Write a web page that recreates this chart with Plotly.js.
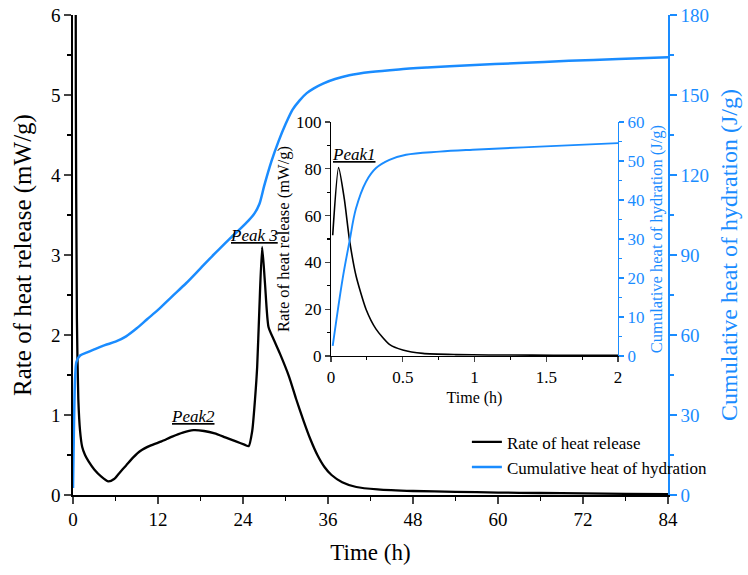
<!DOCTYPE html>
<html>
<head>
<meta charset="utf-8">
<script src="https://cdn.plot.ly/plotly-3.0.1.min.js"></script>
<style>html,body{margin:0;padding:0;background:#fff;}#chart{width:748px;height:575px;}</style>
</head>
<body>
<div id="chart"></div>
<script>
// ---- Main chart data ----
var mainTimeRate = [0.01, 0.05, 0.13, 0.25, 0.4, 0.55, 0.75, 1.0, 1.3, 1.7, 2.2, 3, 4, 5, 5.8, 6.5, 7.5, 8.5, 9.5, 11, 12.5, 14, 15.5, 17, 18.5, 20, 21.5, 23, 24.2, 24.8, 25.3, 25.7, 26.0, 26.3, 26.7, 27.1, 27.6, 28.3, 29.2, 30.5, 31.5, 32.5, 33.5, 34.5, 35.5, 36.5, 38, 40, 43, 48, 54, 60, 66, 72, 78, 84];
var mainRate = [51, 80, 50, 20, 5, 2.2, 1.2, 0.8, 0.6, 0.5, 0.42, 0.32, 0.23, 0.17, 0.2, 0.27, 0.37, 0.47, 0.55, 0.62, 0.67, 0.73, 0.78, 0.81, 0.8, 0.77, 0.72, 0.67, 0.63, 0.61, 0.8, 1.2, 1.6, 2.3, 3.1, 2.65, 2.1, 1.95, 1.77, 1.48, 1.2, 0.94, 0.7, 0.5, 0.35, 0.25, 0.16, 0.1, 0.07, 0.05, 0.04, 0.03, 0.025, 0.02, 0.015, 0.01];

var mainTimeCum = [0, 0.1, 0.2, 0.3, 0.5, 1, 2, 3, 4.5, 6, 7.5, 9, 10.5, 12, 14, 16, 18, 20, 22, 23.6, 24.8, 25.6, 26.3, 27, 28, 29, 30, 31, 32, 33, 34, 35.3, 37, 39, 42, 46, 50, 56, 63, 70, 77, 84];
var mainCum = [2.6, 20, 35, 44, 50, 52.3, 53.5, 54.6, 56.2, 57.5, 59.5, 62.5, 66, 69.4, 74.5, 79.5, 85, 90.5, 95.8, 99.8, 103, 105.5, 109, 116, 125, 132.5, 139, 144.5, 148, 150.7, 152.5, 154.3, 156, 157.4, 158.6, 159.6, 160.3, 161.2, 162, 162.8, 163.5, 164.2];

// ---- Inset data (first 2 h) ----
var insetTimeRate = [0.012, 0.053, 0.093, 0.128, 0.174, 0.244, 0.314, 0.407, 0.5, 0.64, 0.87, 1.1, 1.4, 1.7, 2.0];
var insetRate = [51.6, 80.5, 67, 50, 34.4, 20, 11.5, 5, 2.6, 1.1, 0.6, 0.45, 0.35, 0.3, 0.25];
var insetTimeCum = [0.012, 0.081, 0.128, 0.174, 0.244, 0.314, 0.407, 0.523, 0.756, 0.988, 1.453, 2.0];
var insetCum = [2.6, 19.8, 29.2, 37.8, 44.7, 48.2, 50.3, 51.6, 52.4, 52.9, 53.7, 54.6];

var seriesNames = ['Rate of heat release', 'Cumulative heat of hydration'];
var peakLabels = ['Peak1', 'Peak2', 'Peak 3'];
var rightTitle = 'Cumulative heat of hydration (J/g)';

var BLUE = '#1a8cff';
var FONT = 'Liberation Serif, Times New Roman, serif';

var traces = [
  {x: mainTimeRate, y: mainRate, type: 'scatter', mode: 'lines', name: seriesNames[0],
   line: {color: '#000', width: 2.3, shape: 'spline', smoothing: 0.6}, xaxis: 'x', yaxis: 'y'},
  {x: mainTimeCum, y: mainCum, type: 'scatter', mode: 'lines', name: seriesNames[1],
   line: {color: BLUE, width: 2.5, shape: 'spline', smoothing: 0.8}, xaxis: 'x', yaxis: 'y2'},
  {x: insetTimeRate, y: insetRate, type: 'scatter', mode: 'lines', showlegend: false,
   line: {color: '#000', width: 1.6, shape: 'spline', smoothing: 0.6}, xaxis: 'x2', yaxis: 'y3'},
  {x: insetTimeCum, y: insetCum, type: 'scatter', mode: 'lines', showlegend: false,
   line: {color: BLUE, width: 1.9, shape: 'spline', smoothing: 1}, xaxis: 'x2', yaxis: 'y4'}
];

var tickFont = {family: FONT, size: 19, color: '#000'};
var inTickFont = {family: FONT, size: 17, color: '#000'};

function peakText(s) { return '<span style="text-decoration:underline"><i>' + s + '</i></span>'; }

var layout = {
  width: 748, height: 575,
  margin: {l: 73, r: 80, t: 15, b: 80},
  paper_bgcolor: '#fff', plot_bgcolor: 'rgba(0,0,0,0)',
  font: {family: FONT, color: '#000'},
  showlegend: true,
  legend: {x: 0.662, y: 0.02, xanchor: 'left', yanchor: 'bottom', bgcolor: 'rgba(0,0,0,0)',
           font: {family: FONT, size: 17, color: '#000'}, tracegroupgap: 0},
  xaxis: {domain: [0, 1], range: [0, 84], dtick: 12, tick0: 0, ticks: 'outside', ticklen: 7, tickwidth: 1.3,
          minor: {dtick: 6, ticks: 'outside', ticklen: 4, tickcolor: '#000'},
          showline: true, linecolor: '#000', linewidth: 1.6, showgrid: false, zeroline: false,
          tickfont: tickFont, anchor: 'y',
          title: {text: 'Time (h)', font: {family: FONT, size: 23, color: '#000'}, standoff: 14}},
  xaxis3: {overlaying: 'x', side: 'top', anchor: 'y', range: [0, 84], dtick: 6, ticks: 'inside', ticklen: 6,
           showticklabels: false, showline: true, linecolor: '#000', linewidth: 1.6, showgrid: false, zeroline: false},
  yaxis: {domain: [0, 1], range: [0, 6], dtick: 1, ticks: 'outside', ticklen: 7, tickwidth: 1.3,
          minor: {dtick: 0.5, ticks: 'outside', ticklen: 4, tickcolor: '#000'},
          showline: true, linecolor: '#000', linewidth: 1.6, showgrid: false, zeroline: false,
          tickfont: tickFont, anchor: 'x',
          title: {text: 'Rate of heat release (mW/g)', font: {family: FONT, size: 25, color: '#000'}, standoff: 12}},
  yaxis2: {overlaying: 'y', side: 'right', anchor: 'x', range: [0, 180], dtick: 30, ticks: 'outside', ticklen: 7, tickwidth: 1.3,
           minor: {dtick: 15, ticks: 'outside', ticklen: 4, tickcolor: BLUE},
           showline: true, linecolor: BLUE, linewidth: 1.6, tickcolor: BLUE, showgrid: false, zeroline: false,
           tickfont: {family: FONT, size: 19, color: BLUE},
           title: {text: rightTitle, font: {family: FONT, size: 24, color: BLUE}, standoff: 12}},
  // inset
  xaxis2: {domain: [0.4336, 0.916], anchor: 'y3', range: [0, 2], dtick: 0.5, ticks: 'outside', ticklen: 5, tickwidth: 1.1,
           minor: {dtick: 0.25, ticks: 'outside', ticklen: 3, tickcolor: '#000'},
           showline: true, linecolor: '#000', linewidth: 1.2, showgrid: false, zeroline: false,
           tickfont: inTickFont,
           title: {text: 'Time (h)', font: {family: FONT, size: 16, color: '#000'}, standoff: 6}},
  xaxis4: {overlaying: 'x2', side: 'top', anchor: 'y3', range: [0, 2], dtick: 0.25, ticks: 'inside', ticklen: 4,
           showticklabels: false, showline: true, linecolor: '#000', linewidth: 1.2, showgrid: false, zeroline: false},
  yaxis3: {domain: [0.2896, 0.777], anchor: 'x2', range: [0, 100], dtick: 20, ticks: 'outside', ticklen: 5, tickwidth: 1.1,
           minor: {dtick: 10, ticks: 'outside', ticklen: 3, tickcolor: '#000'},
           showline: true, linecolor: '#000', linewidth: 1.2, showgrid: false, zeroline: false,
           tickfont: inTickFont,
           title: {text: 'Rate of heat release (mW/g)', font: {family: FONT, size: 16.5, color: '#000'}, standoff: 2}},
  yaxis4: {overlaying: 'y3', side: 'right', anchor: 'x2', range: [0, 60], dtick: 10, ticks: 'outside', ticklen: 5, tickwidth: 1.1,
           minor: {dtick: 5, ticks: 'outside', ticklen: 3, tickcolor: BLUE},
           showline: true, linecolor: BLUE, linewidth: 1.2, tickcolor: BLUE, showgrid: false, zeroline: false,
           tickfont: {family: FONT, size: 17, color: BLUE},
           title: {text: rightTitle, font: {family: FONT, size: 16.5, color: BLUE}, standoff: 6}},
  annotations: [
    {xref: 'x2', yref: 'y3', x: 0.16, y: 86, text: peakText(peakLabels[0]),
     showarrow: false, font: {family: FONT, size: 17, color: '#000'}},
    {xref: 'x', yref: 'y', x: 17, y: 0.98, text: peakText(peakLabels[1]),
     showarrow: false, font: {family: FONT, size: 17, color: '#000'}},
    {xref: 'x', yref: 'y', x: 25.6, y: 3.25, text: peakText(peakLabels[2]),
     showarrow: false, font: {family: FONT, size: 17, color: '#000'}}
  ]
};

Plotly.newPlot('chart', traces, layout, {displayModeBar: false, staticPlot: true});
</script>
</body>
</html>
